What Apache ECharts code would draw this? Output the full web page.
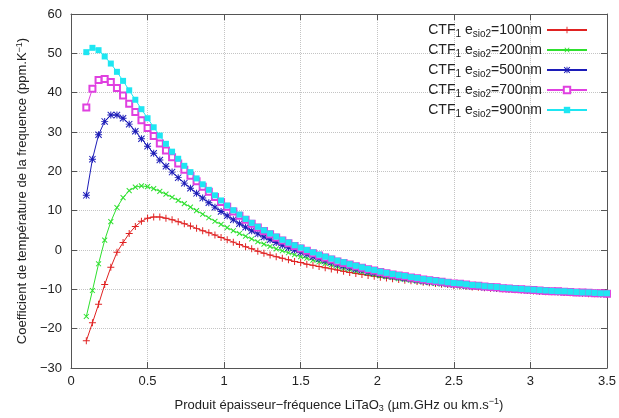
<!DOCTYPE html>
<html>
<head>
<meta charset="utf-8">
<script src="https://cdn.jsdelivr.net/npm/echarts@6/dist/echarts.min.js"></script>
<style>
  html, body { margin: 0; padding: 0; background: #fff; }
  #main { width: 619px; height: 418px; }
</style>
</head>
<body>
<div id="main"></div>
<script>
// produit epaisseur-frequence (um.GHz)
var xs = [0.10, 0.14, 0.18, 0.22, 0.26, 0.30, 0.34, 0.38, 0.42, 0.46,
          0.50, 0.54, 0.58, 0.62, 0.66, 0.70, 0.74, 0.78, 0.82, 0.86,
          0.90, 0.94, 0.98, 1.02, 1.06, 1.10, 1.14, 1.18, 1.22, 1.26,
          1.30, 1.34, 1.38, 1.42, 1.46, 1.50, 1.54, 1.58, 1.62, 1.66,
          1.70, 1.74, 1.78, 1.82, 1.86, 1.90, 1.94, 1.98, 2.02, 2.06,
          2.10, 2.14, 2.18, 2.22, 2.26, 2.30, 2.34, 2.38, 2.42, 2.46,
          2.50, 2.54, 2.58, 2.62, 2.66, 2.70, 2.74, 2.78, 2.82, 2.86,
          2.90, 2.94, 2.98, 3.02, 3.06, 3.10, 3.14, 3.18, 3.22, 3.26,
          3.30, 3.34, 3.38, 3.42, 3.46, 3.50];

// CTF (ppm/K) pour chaque epaisseur de SiO2
var ctf100 = [-23.1, -18.5, -13.8, -8.8, -4.4, -0.6, 1.9, 4.2, 6.0, 7.3,
              8.1, 8.4, 8.4, 8.1, 7.7, 7.2, 6.7, 6.1, 5.5, 4.9,
              4.4, 3.8, 3.2, 2.6, 2.0, 1.4, 0.8, 0.3, -0.3, -0.8,
              -1.3, -1.7, -2.1, -2.5, -2.9, -3.2, -3.6, -3.9, -4.2, -4.5,
              -4.8, -5.1, -5.4, -5.7, -6.0, -6.2, -6.5, -6.7, -6.9, -7.1,
              -7.3, -7.5, -7.7, -7.8, -8.0, -8.2, -8.3, -8.5, -8.7, -8.8,
              -9.0, -9.1, -9.2, -9.4, -9.5, -9.6, -9.7, -9.8, -9.9, -10.0,
              -10.1, -10.2, -10.3, -10.4, -10.5, -10.6, -10.6, -10.7, -10.8, -10.9,
              -10.9, -11.0, -11.1, -11.1, -11.2, -11.3];
var ctf200 = [-16.9, -10.3, -3.5, 2.5, 7.2, 10.8, 13.3, 15.1, 16.0, 16.3,
              16.1, 15.6, 14.9, 14.2, 13.4, 12.6, 11.8, 10.9, 10.0, 9.1,
              8.2, 7.3, 6.5, 5.7, 4.9, 4.2, 3.5, 2.8, 2.1, 1.5,
              0.9, 0.3, -0.2, -0.7, -1.2, -1.7, -2.1, -2.6, -3.0, -3.4,
              -3.8, -4.2, -4.6, -4.9, -5.3, -5.6, -5.9, -6.2, -6.5, -6.8,
              -7.0, -7.3, -7.5, -7.7, -7.9, -8.1, -8.3, -8.5, -8.6, -8.8,
              -8.9, -9.1, -9.2, -9.4, -9.5, -9.6, -9.7, -9.8, -9.9, -10.0,
              -10.1, -10.2, -10.3, -10.4, -10.5, -10.5, -10.6, -10.7, -10.8, -10.8,
              -10.9, -11.0, -11.0, -11.1, -11.2, -11.2];
var ctf500 = [13.9, 23.1, 29.3, 32.7, 34.3, 34.3, 33.5, 32.0, 30.2, 28.3,
              26.4, 24.6, 22.9, 21.3, 19.8, 18.4, 17.0, 15.7, 14.4, 13.2,
              12.0, 10.9, 9.8, 8.7, 7.7, 6.7, 5.8, 4.9, 4.1, 3.3,
              2.6, 1.9, 1.2, 0.6, 0.0, -0.6, -1.1, -1.7, -2.2, -2.7,
              -3.1, -3.6, -4.0, -4.4, -4.8, -5.1, -5.5, -5.8, -6.1, -6.4,
              -6.7, -6.9, -7.2, -7.4, -7.6, -7.9, -8.1, -8.2, -8.4, -8.6,
              -8.8, -8.9, -9.1, -9.2, -9.3, -9.5, -9.6, -9.7, -9.8, -9.9,
              -10.0, -10.1, -10.2, -10.3, -10.4, -10.4, -10.5, -10.6, -10.7, -10.7,
              -10.8, -10.9, -10.9, -11.0, -11.1, -11.1];
var ctf700 = [36.2, 41.0, 43.2, 43.5, 42.7, 41.2, 39.3, 37.2, 35.1, 33.0,
              31.0, 29.0, 27.1, 25.3, 23.6, 22.0, 20.4, 18.9, 17.5, 16.1,
              14.8, 13.5, 12.2, 11.0, 9.8, 8.7, 7.7, 6.7, 5.7, 4.8,
              4.0, 3.2, 2.4, 1.7, 1.0, 0.4, -0.2, -0.8, -1.4, -1.9,
              -2.4, -2.9, -3.3, -3.7, -4.1, -4.5, -4.9, -5.2, -5.6, -5.9,
              -6.2, -6.5, -6.7, -7.0, -7.2, -7.5, -7.7, -7.9, -8.1, -8.3,
              -8.5, -8.6, -8.8, -9.0, -9.1, -9.3, -9.4, -9.5, -9.7, -9.8,
              -9.9, -10.0, -10.1, -10.2, -10.3, -10.4, -10.5, -10.5, -10.6, -10.7,
              -10.8, -10.8, -10.9, -11.0, -11.0, -11.1];
var ctf900 = [50.3, 51.4, 50.8, 49.2, 47.4, 45.3, 43.0, 40.6, 38.2, 35.8,
              33.5, 31.2, 29.1, 27.0, 25.0, 23.2, 21.4, 19.8, 18.2, 16.7,
              15.3, 13.9, 12.6, 11.3, 10.1, 9.0, 7.9, 6.9, 5.9, 5.0,
              4.2, 3.4, 2.6, 1.9, 1.2, 0.6, 0.0, -0.6, -1.2, -1.7,
              -2.2, -2.7, -3.1, -3.6, -4.0, -4.4, -4.8, -5.1, -5.5, -5.8,
              -6.1, -6.4, -6.6, -6.9, -7.1, -7.4, -7.6, -7.8, -8.0, -8.2,
              -8.4, -8.5, -8.7, -8.9, -9.0, -9.2, -9.3, -9.4, -9.6, -9.7,
              -9.8, -9.9, -10.0, -10.1, -10.2, -10.3, -10.4, -10.5, -10.5, -10.6,
              -10.7, -10.8, -10.8, -10.9, -11.0, -11.0];

var epaisseurs = [100, 200, 500, 700, 900];
var valeurs = [ctf100, ctf200, ctf500, ctf700, ctf900];
var couleurs = ['#e02222', '#2ee02e', '#1c1cb8', '#e040e0', '#1ee6f2'];

// symboles facon gnuplot : +, x, *, carre vide, carre plein
var plus = 'path://M4.3,0h1.4v10h-1.4z M0,4.3h10v1.4h-10z';
var etoile = 'path://M4.3,0h1.4v10h-1.4z M0,4.3h10v1.4h-10z M0,1L1,0L10,9L9,10Z M9,0L10,1L1,10L0,9Z';
var symboles = [plus, plus, etoile, 'emptyRect', 'rect'];
var rotations = [0, 45, 0, 0, 0];
var tailles = [7, 7, 7, 6, 6];

var font = 'Liberation Sans, Arial, Helvetica, sans-serif';

function nomSerie(e) {
    return 'CTF1 esio2=' + e + 'nm';
}

// signe moins typographique comme gnuplot
function moins(v) {
    return String(v).replace('-', '−');
}

var series = valeurs.map(function (v, k) {
    return {
        name: nomSerie(epaisseurs[k]),
        type: 'line',
        data: xs.map(function (x, i) { return [x, v[i]]; }),
        symbol: symboles[k],
        symbolRotate: rotations[k],
        symbolSize: tailles[k],
        showAllSymbol: true,
        lineStyle: { color: couleurs[k], width: 1 },
        itemStyle: { color: couleurs[k], borderColor: couleurs[k], borderWidth: k == 3 ? 1 : 0 },
        emphasis: { disabled: true }
    };
});

var myChart = echarts.init(document.getElementById('main'));

var tickStyle = { inside: true, length: 6, lineStyle: { color: '#555' } };
var lineStyle = { show: true, onZero: false, lineStyle: { color: '#555', width: 1 } };

var option = {
    animation: false,
    backgroundColor: '#fff',
    textStyle: { fontFamily: font },
    grid: { left: 71, right: 12, top: 14, bottom: 44 },
    legend: {
        orient: 'vertical',
        right: 26,
        top: 18,
        align: 'right',
        itemWidth: 40,
        itemHeight: 8,
        itemGap: 4,
        data: epaisseurs.map(nomSerie),
        formatter: function (name) {
            var e = name.split('=')[1];
            return '{a|CTF}{s|1}{a| e}{s|sio2}{a|=' + e + '}';
        },
        textStyle: {
            color: '#222',
            fontFamily: font,
            rich: {
                a: { fontSize: 14, fontFamily: font, color: '#222' },
                s: { fontSize: 10, fontFamily: font, color: '#222', padding: [8, 0, 0, 0] }
            }
        }
    },
    xAxis: [{
        type: 'value',
        min: 0, max: 3.5, interval: 0.5,
        name: 'Produit épaisseur−fréquence LiTaO{sub|3} (µm.GHz ou km.s{sup|−1})',
        nameLocation: 'middle',
        nameGap: 29,
        nameTextStyle: {
            fontSize: 13, color: '#222', fontFamily: font,
            rich: {
                sub: { fontSize: 9, fontFamily: font, color: '#222', padding: [7, 0, 0, 0] },
                sup: { fontSize: 9, fontFamily: font, color: '#222', padding: [0, 0, 7, 0] }
            }
        },
        axisLine: lineStyle,
        axisTick: tickStyle,
        axisLabel: { fontSize: 13, color: '#222', margin: 7, fontFamily: font },
        splitLine: { show: true, lineStyle: { color: '#c4c4c4', type: 'dotted' } }
    }, {
        type: 'value', position: 'top',
        min: 0, max: 3.5, interval: 0.5,
        axisLine: lineStyle, axisTick: tickStyle,
        axisLabel: { show: false }, splitLine: { show: false }
    }],
    yAxis: [{
        type: 'value',
        min: -30, max: 60, interval: 10,
        name: 'Coefficient de température de la frequence (ppm.K{sup|−1})',
        nameLocation: 'middle',
        nameGap: 38,
        nameTextStyle: {
            fontSize: 13, color: '#222', fontFamily: font,
            rich: {
                sup: { fontSize: 9, fontFamily: font, color: '#222', padding: [0, 0, 7, 0] }
            }
        },
        axisLine: lineStyle,
        axisTick: tickStyle,
        axisLabel: { fontSize: 13, color: '#222', margin: 9, fontFamily: font, formatter: moins },
        splitLine: { show: true, lineStyle: { color: '#c4c4c4', type: 'dotted' } }
    }, {
        type: 'value', position: 'right',
        min: -30, max: 60, interval: 10,
        axisLine: lineStyle, axisTick: tickStyle,
        axisLabel: { show: false }, splitLine: { show: false }
    }],
    series: series
};

myChart.setOption(option);
</script>
</body>
</html>
